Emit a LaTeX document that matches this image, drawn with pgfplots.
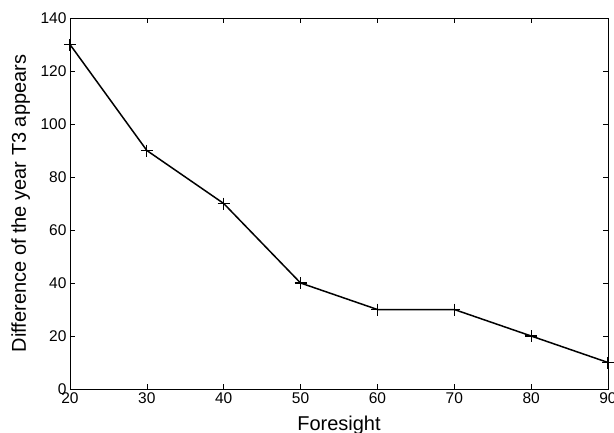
\documentclass[border=0pt]{standalone}
\usepackage{fontspec}
\setmainfont{Liberation Sans}
\usepackage{pgfplots}
\pgfplotsset{compat=1.18}
\begin{document}
\begin{tikzpicture}[x=1pt,y=1pt]
\begin{axis}[
  at={(0,0)}, anchor=origin,
  scale only axis, width=538pt, height=371pt,
  xmin=20, xmax=90, ymin=0, ymax=140,
  xtick={20,30,...,90}, ytick={0,20,...,140},
  tick align=inside, major tick length=5pt,
  tick style={black, line width=0.6pt},
  axis line style={line width=0.8pt},
  /pgf/number format/assume math mode=true,
  ticklabel style={font=\fontsize{15.5}{18}\selectfont},
  xlabel={Foresight}, ylabel={Difference of the year T3 appears},
  every axis x label/.style={at={([yshift=-41pt]axis description cs:0.5,0)}, anchor=base, font=\fontsize{20}{24}\selectfont},
  every axis y label/.style={at={([xshift=-44pt]axis description cs:0,0.5)}, rotate=90, anchor=base, font=\fontsize{20}{24}\selectfont},
  clip=false,
]
\addplot[black, line width=1.5pt, mark=+, mark size=6pt, mark options={line width=1.2pt}] coordinates {
(20,130) (30,90) (40,70) (50,40) (60,30) (70,30) (80,20) (90,10)
};
\end{axis}
\pgfresetboundingbox
\useasboundingbox (-70pt,-43pt) rectangle (544pt,389pt);
\end{tikzpicture}
\end{document}
